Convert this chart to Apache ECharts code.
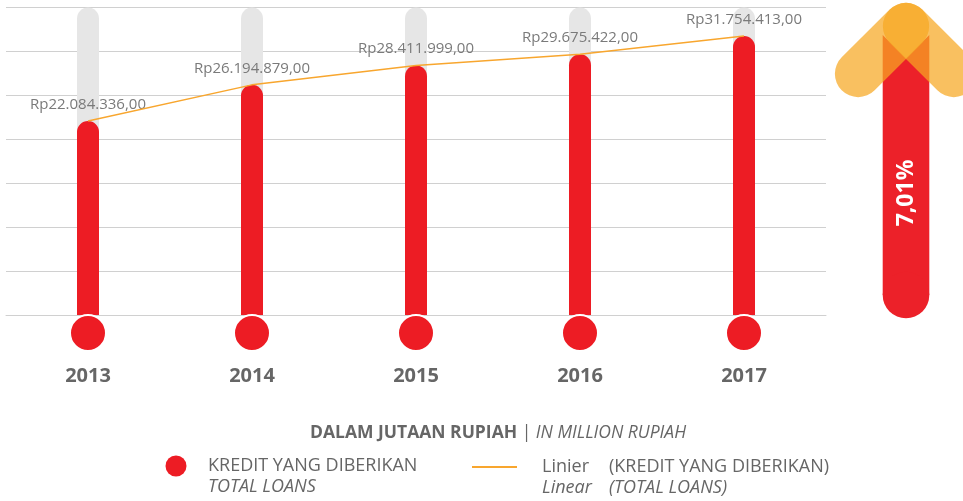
<!DOCTYPE html>
<html>
<head>
<meta charset="utf-8">
<script src="https://cdn.jsdelivr.net/npm/echarts@6/dist/echarts.min.js"></script>
<style>
html,body{margin:0;padding:0;background:#fff;}
#chart{width:963px;height:501px;}
</style>
</head>
<body>
<div id="chart"></div>
<script>
// ---- data ----
const categories = ['2013', '2014', '2015', '2016', '2017'];
const loans = [22084336, 26194879, 28411999, 29675422, 31754413];
const baseline = [0, 0, 0, 0, 0];
const growthText = '7,01%';
const seriesName = 'KREDIT YANG DIBERIKAN';
const seriesNameEn = 'TOTAL LOANS';
const unitText = ['DALAM JUTAAN RUPIAH', 'IN MILLION RUPIAH'];
const yMin = 0, yMax = 35000000, yStep = 5000000;

function fmtRp(v) {
  return 'Rp' + String(v).replace(/\B(?=(\d{3})+(?!\d))/g, '.') + ',00';
}

const FONT = 'Open Sans';
const RED = '#ED1C24';
const ORANGE = '#F8A62E';
const GREY_TXT = '#666666';

const chart = echarts.init(document.getElementById('chart'), null, {renderer: 'canvas'});

// arrow geometry (decoration)
const cx = 906, hw = 23.3;

chart.setOption({
  animation: false,
  grid: {left: 6, right: 137, top: 7.5, bottom: 186},
  xAxis: {
    type: 'category',
    data: categories,
    axisTick: {show: false},
    axisLine: {show: true, lineStyle: {color: '#d0d0d0', width: 1}},
    axisLabel: {
      margin: 61, verticalAlign: 'middle',
      fontFamily: FONT, fontWeight: 'bold', fontSize: 20, color: GREY_TXT
    }
  },
  yAxis: {
    type: 'value', min: yMin, max: yMax, interval: yStep,
    axisLabel: {show: false}, axisLine: {show: false}, axisTick: {show: false},
    splitLine: {lineStyle: {color: '#d0d0d0', width: 1}}
  },
  series: [
    {
      name: seriesName,
      type: 'bar',
      data: loans,
      barWidth: 22,
      showBackground: true,
      backgroundStyle: {color: '#e6e6e6', borderRadius: [11, 11, 0, 0]},
      itemStyle: {color: RED, borderRadius: [11, 11, 0, 0]},
      label: {
        show: true, position: 'top', distance: 9,
        formatter: p => fmtRp(p.value),
        fontFamily: FONT, fontSize: 15, color: '#7a7a7a'
      },
      z: 2
    },
    {
      name: 'Linier (' + seriesName + ')',
      type: 'line',
      data: loans,
      symbol: 'none',
      lineStyle: {color: ORANGE, width: 1.5},
      z: 4
    },
    {
      name: seriesName,
      type: 'scatter',
      data: categories.map((c, i) => [c, baseline[i]]),
      symbol: 'circle',
      symbolSize: 36,
      symbolOffset: [0, 18],
      clip: false,
      itemStyle: {color: RED, borderColor: '#ffffff', borderWidth: 2, opacity: 1},
      z: 5
    }
  ],
  graphic: [
    // growth arrow: shaft
    {type: 'polygon', shape: {points: [[cx - hw, 35], [cx, 58.6], [cx + hw, 35], [cx + hw, 295], [cx - hw, 295]]},
     style: {fill: '#EC2129'}, z: 10},
    {type: 'circle', shape: {cx: cx, cy: 295, r: hw}, style: {fill: '#EC2129'}, z: 10},
    // chevron arms
    {type: 'rect', x: cx - 24, y: 50, rotation: Math.PI / 4,
     shape: {x: -57, y: -hw, width: 114, height: hw * 2, r: hw},
     style: {fill: 'rgba(247,168,35,0.72)'}, z: 11},
    {type: 'rect', x: cx + 24, y: 50, rotation: -Math.PI / 4,
     shape: {x: -57, y: -hw, width: 114, height: hw * 2, r: hw},
     style: {fill: 'rgba(247,168,35,0.72)'}, z: 11},
    {type: 'text', x: cx, y: 193, rotation: Math.PI / 2,
     style: {text: growthText, fill: '#ffffff', font: 'bold 23px "Open Sans"', align: 'center', verticalAlign: 'middle'}, z: 12},
    // unit subtitle
    {type: 'text', x: 498, y: 433,
     style: {
       text: '{b|' + unitText[0] + ' }{s|| }{i|' + unitText[1] + '}',
       align: 'center', verticalAlign: 'middle',
       rich: {
         b: {fontFamily: FONT, fontWeight: 'bold', fontSize: 17.5, fill: GREY_TXT, color: GREY_TXT},
         s: {fontFamily: FONT, fontSize: 17.5, fill: GREY_TXT, color: GREY_TXT},
         i: {fontFamily: FONT, fontStyle: 'italic', fontSize: 17.5, fill: GREY_TXT, color: GREY_TXT}
       }
     }},
    // legend 1
    {type: 'circle', shape: {cx: 176, cy: 466, r: 10.5}, style: {fill: RED}},
    {type: 'text', x: 208, y: 466, style: {text: seriesName, font: '18px "Open Sans"', fill: GREY_TXT, verticalAlign: 'middle'}},
    {type: 'text', x: 208, y: 487, style: {text: seriesNameEn, font: 'italic 18px "Open Sans"', fill: GREY_TXT, verticalAlign: 'middle'}},
    // legend 2
    {type: 'line', shape: {x1: 472, y1: 467, x2: 517, y2: 467}, style: {stroke: ORANGE, lineWidth: 2}},
    {type: 'text', x: 542, y: 467, style: {text: 'Linier', font: '18px "Open Sans"', fill: GREY_TXT, verticalAlign: 'middle'}},
    {type: 'text', x: 609, y: 467, style: {text: '(' + seriesName + ')', font: '18px "Open Sans"', fill: GREY_TXT, verticalAlign: 'middle'}},
    {type: 'text', x: 542, y: 488, style: {text: 'Linear', font: 'italic 18px "Open Sans"', fill: GREY_TXT, verticalAlign: 'middle'}},
    {type: 'text', x: 609, y: 488, style: {text: '(' + seriesNameEn + ')', font: 'italic 18px "Open Sans"', fill: GREY_TXT, verticalAlign: 'middle'}}
  ]
});
</script>
</body>
</html>
